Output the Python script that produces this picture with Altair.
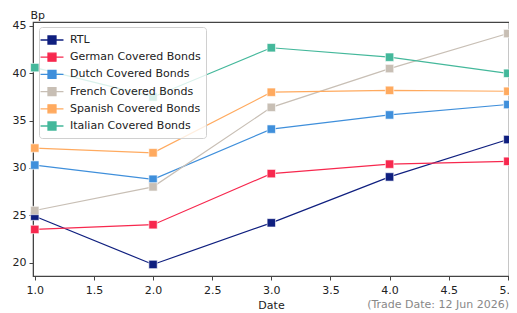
import altair as alt
import pandas as pd

dates = [1, 2, 3, 4, 5]
series_names = ["RTL", "German Covered Bonds", "Dutch Covered Bonds",
                "French Covered Bonds", "Spanish Covered Bonds", "Italian Covered Bonds"]
colors = ["#0F1F7F", "#F7284E", "#3F8FDB", "#C8BFB5", "#FFAA5F", "#44B89B"]

rtl = [24.9, 19.8, 24.2, 29.05, 33.0]
german = [23.5, 24.0, 29.4, 30.4, 30.7]
dutch = [30.3, 28.8, 34.1, 35.6, 36.7]
french = [25.5, 28.0, 36.4, 40.5, 44.2]
spanish = [32.1, 31.6, 38.0, 38.2, 38.1]
italian = [40.6, 37.5, 42.7, 41.7, 40.0]

x_ticks = [1.0, 1.5, 2.0, 2.5, 3.0, 3.5, 4.0, 4.5, 5.0]
y_ticks = [20, 25, 30, 35, 40, 45]
note = "(Trade Date: 12 Jun 2026)"

values = [rtl, german, dutch, french, spanish, italian]
rows = []
for name, vals in zip(series_names, values):
    for d, v in zip(dates, vals):
        rows.append({"Date": d, "Bp": v, "Series": name})
df = pd.DataFrame(rows)

W, H = 476, 254
FONT = "DejaVu Sans"

color = alt.Color(
    "Series:N",
    scale=alt.Scale(domain=series_names, range=colors),
    sort=series_names,
    legend=alt.Legend(
        title=None,
        orient="none",
        legendX=6,
        legendY=5,
        symbolType="M-1.64,0H1.64M-0.57,-0.57H0.57V0.57H-0.57Z",
        symbolSize=196,
        symbolStrokeWidth=1.3,
        symbolOpacity=1,
        labelFont=FONT,
        labelFontSize=11,
        labelColor="#222",
        labelOffset=10,
        rowPadding=2.2,
        padding=5,
        fillColor="rgba(255,255,255,0.8)",
        strokeColor="#d0d0d0",
        cornerRadius=3,
        labelLimit=300,
    ),
)

x = alt.X("Date:Q",
          scale=alt.Scale(domain=[0.985, 5.01], nice=False, zero=False),
          axis=alt.Axis(values=x_ticks, format=".1f", title="Date", grid=False,
                        labelFont=FONT, labelFontSize=11, labelColor="#222",
                        titleFont=FONT, titleFontSize=11, titleFontWeight="normal",
                        titleColor="#222", titlePadding=4,
                        tickColor="#444", domainColor="#444", tickSize=4,
                        labelPadding=4))
y = alt.Y("Bp:Q",
          scale=alt.Scale(domain=[18.58, 45.42], nice=False, zero=False),
          axis=alt.Axis(values=y_ticks, format="d", title="Bp", grid=False,
                        labelFont=FONT, labelFontSize=11, labelColor="#222",
                        titleFont=FONT, titleFontSize=11, titleFontWeight="normal",
                        titleColor="#222", titleAngle=0, titleAlign="left",
                        titleBaseline="alphabetic", titleX=-3, titleY=-4,
                        tickColor="#444", domainColor="#444", tickSize=4,
                        labelPadding=3))

lines = alt.Chart(df).mark_line(strokeWidth=1.2).encode(x=x, y=y, color=color)
points = alt.Chart(df).mark_point(shape="square", filled=True, size=70, opacity=1,
                                  stroke="white", strokeWidth=0.6).encode(
    x=x, y=y, color=alt.Color("Series:N", scale=alt.Scale(domain=series_names, range=colors),
                              legend=None))

note_df = pd.DataFrame({"t": [note]})
note_text = alt.Chart(note_df).mark_text(
    align="right", baseline="alphabetic", font=FONT, fontSize=11, color="#888"
).encode(text="t:N", x=alt.value(W), y=alt.value(H + 32))

chart = alt.layer(lines, points, note_text).properties(
    width=W, height=H,
    padding={"left": 25, "top": 14, "right": 0, "bottom": 36},
    autosize=alt.AutoSizeParams(type="none"),
).configure_view(stroke="#444", strokeWidth=1.2)

chart.save("out.html", embed_options={"renderer": "svg", "actions": False})
